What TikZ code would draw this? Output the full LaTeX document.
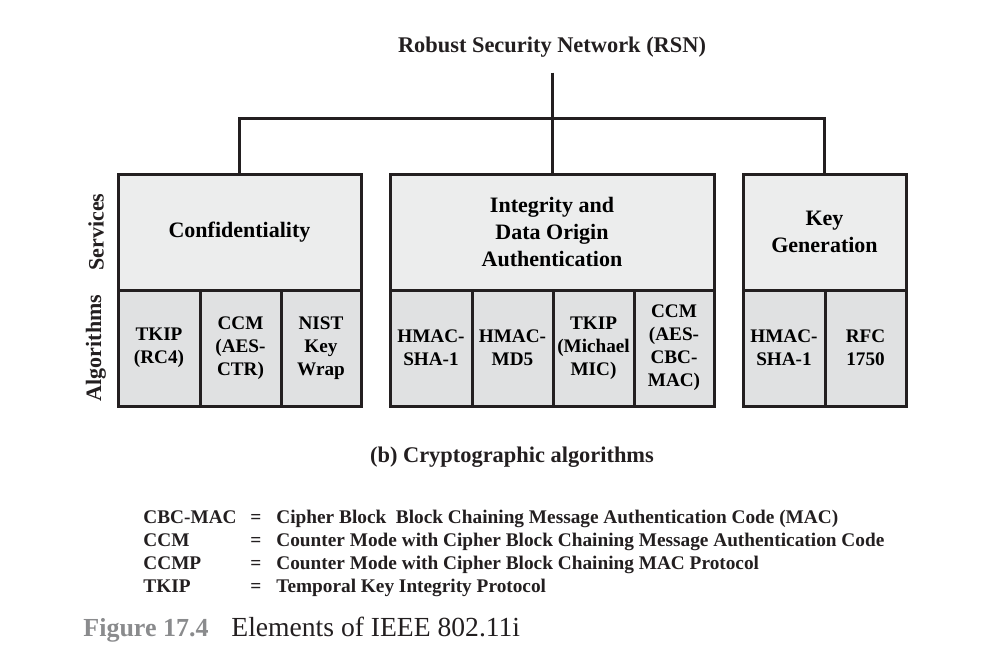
\documentclass[tikz,border=0pt]{standalone}
\usepackage{fontspec}
\setmainfont{Liberation Serif}
\definecolor{line}{HTML}{231F20}
\definecolor{servfill}{HTML}{ECEDED}
\definecolor{algfill}{HTML}{E0E1E2}
\definecolor{capgray}{HTML}{8A8B8D}
\begin{document}
\begin{tikzpicture}[x=0.5pt,y=-0.5pt]
\useasboundingbox (0,0) rectangle (1006,648);
\tikzset{serv/.style ={draw=line, line width=1.5pt, fill=servfill, minimum height=58pt, inner sep=0pt, align=center, font=\fontsize{11}{13.5}\selectfont\bfseries}}
\tikzset{alg/.style ={draw=line, line width=1.5pt, fill=algfill, minimum height=58pt, inner sep=0pt, align=center, font=\fontsize{9.6}{11.5}\selectfont\bfseries}}
\tikzset{conn/.style ={draw=line, line width=1.5pt}}
\tikzset{legend/.style ={anchor=base west, inner sep=0pt, text=line, font=\fontsize{9.65}{11}\selectfont\bfseries}}
\node[font=\fontsize{11.2}{13}\selectfont\bfseries, text=line, inner sep=7.5pt] (rsn) at (552,47) {Robust Security Network (RSN)};
% services
\node[serv, minimum width=121.5pt] (conf) at (239.5,232) {Confidentiality};
\node[serv, minimum width=162pt] (integ) at (552,232) {Integrity and\\Data Origin\\Authentication};
\node[serv, minimum width=81.5pt] (keygen) at (824.5,232) {Key\\Generation};
% algorithms
\foreach \n/\x/\w/\t in {a1/159/41/{TKIP\\(RC4)}, a2/240.5/40.5/{CCM\\(AES-\\CTR)}, a3/321/40/{NIST\\Key\\Wrap},
  b1/431/41/{HMAC-\\SHA-1}, b2/512.5/40.5/{HMAC-\\MD5}, b3/593.5/40.5/{TKIP\\(Michael\\MIC)}, b4/674/40/{CCM\\(AES-\\CBC-\\MAC)},
  c1/784/41/{HMAC-\\SHA-1}, c2/865.5/40.5/{RFC\\1750}}
  \node[alg, minimum width=\w pt] (\n) at (\x,348) {\t};
\node[rotate=90, font=\fontsize{11}{13}\selectfont\bfseries, text=line] (srv) at (96,232) {Services};
\node[rotate=90, font=\fontsize{11}{13}\selectfont\bfseries, text=line] (algs) at (96,348) {Algorithms};
% tree
\coordinate (split) at (552,118);
\draw[conn] (rsn.south) -- (integ.north);
\draw[conn] (conf.north) |- (split) -| (keygen.north);
\node[font=\fontsize{11.2}{13}\selectfont\bfseries, text=line] (sub) at (512,457) {(b) Cryptographic algorithms};
% legend
\foreach \y/\ab/\txt [count=\i] in {523/CBC-MAC/{Cipher Block~ Block Chaining Message Authentication Code (MAC)},
  546/CCM/{Counter Mode with Cipher Block Chaining Message Authentication Code},
  569/CCMP/{Counter Mode with Cipher Block Chaining MAC Protocol},
  592/TKIP/{Temporal Key Integrity Protocol}}
{
  \node[legend] (ab\i) at (143,\y) {\ab};
  \node[legend] (eq\i) at (250,\y) {=};
  \node[legend] (tx\i) at (276,\y) {\txt};
}
\node[anchor=base west, inner sep=0pt, text=capgray, font=\fontsize{13}{15}\selectfont\bfseries] (fig) at (83,636) {Figure 17.4};
\node[anchor=base west, inner sep=0pt, text=line, font=\fontsize{13.8}{16}\selectfont] (figtxt) at (231,636) {Elements of IEEE 802.11i};
\end{tikzpicture}
\end{document}
